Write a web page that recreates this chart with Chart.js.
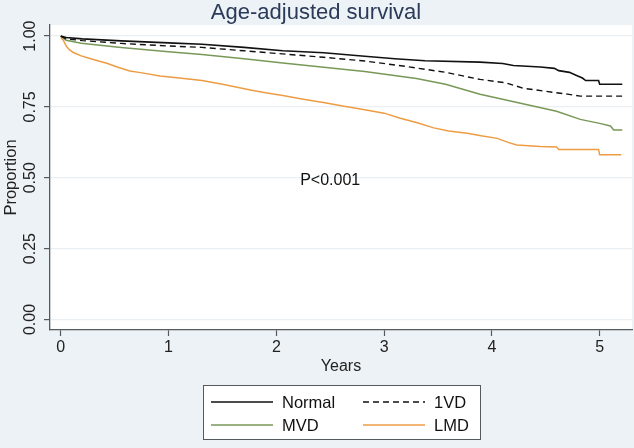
<!DOCTYPE html>
<html>
<head>
<meta charset="utf-8">
<script src="https://cdn.jsdelivr.net/npm/chart.js@4"></script>
<style>
  html, body { margin: 0; padding: 0; background: #edf2f6; }
  canvas { display: block; }
</style>
</head>
<body>
<canvas id="survChart" width="634" height="448"></canvas>
<script>
// Data (repeated times mark visible drops)
const normalYears = [0, 0.05, 0.2, 0.56, 1.0, 1.31, 1.7, 2.06, 2.44, 2.82, 3.1, 3.38, 3.89, 4.1, 4.2, 4.45, 4.58, 4.62, 4.72, 4.78, 4.84, 4.87, 4.99, 5.0, 5.21];
const normalSurv  = [1.0, 0.995, 0.99, 0.983, 0.976, 0.971, 0.96, 0.948, 0.941, 0.929, 0.92, 0.913, 0.908, 0.903, 0.896, 0.891, 0.886, 0.878, 0.872, 0.862, 0.852, 0.843, 0.843, 0.83, 0.83];

const oneVdYears = [0, 0.05, 0.2, 0.56, 1.0, 1.31, 1.7, 2.06, 2.44, 2.82, 3.2, 3.57, 3.89, 4.13, 4.29, 4.5, 4.7, 4.82, 5.21];
const oneVdSurv  = [1.0, 0.99, 0.984, 0.974, 0.965, 0.96, 0.948, 0.937, 0.925, 0.912, 0.893, 0.872, 0.847, 0.835, 0.816, 0.805, 0.795, 0.788, 0.788];

const mvdYears = [0, 0.05, 0.19, 0.56, 1.0, 1.31, 1.7, 2.06, 2.44, 2.82, 3.3, 3.57, 3.89, 4.36, 4.6, 4.82, 5.0, 5.1, 5.13, 5.21];
const mvdSurv  = [1.0, 0.985, 0.975, 0.96, 0.945, 0.935, 0.92, 0.905, 0.89, 0.875, 0.85, 0.83, 0.795, 0.755, 0.735, 0.706, 0.692, 0.683, 0.669, 0.669];

const lmdYears = [0, 0.01, 0.024, 0.04, 0.056, 0.08, 0.117, 0.19, 0.27, 0.35, 0.427, 0.53, 0.64, 0.74, 0.92, 1.1, 1.31, 1.5, 1.76, 1.9, 2.06, 2.25, 2.45, 2.63, 2.82, 3.0, 3.15, 3.3, 3.46, 3.6, 3.77, 3.9, 4.05, 4.15, 4.23, 4.45, 4.6, 4.62, 4.99, 5.0, 5.2];
const lmdSurv  = [1.0, 0.99, 0.985, 0.972, 0.962, 0.952, 0.942, 0.93, 0.921, 0.912, 0.904, 0.89, 0.877, 0.871, 0.859, 0.852, 0.843, 0.83, 0.81, 0.8, 0.79, 0.777, 0.765, 0.752, 0.74, 0.728, 0.71, 0.695, 0.676, 0.665, 0.657, 0.648, 0.639, 0.625, 0.616, 0.61, 0.609, 0.6, 0.6, 0.581, 0.581];

const xTicks = [0, 1, 2, 3, 4, 5];
const yTicks = [0, 0.25, 0.5, 0.75, 1];
const yTickLabels = ['0.00', '0.25', '0.50', '0.75', '1.00'];

const FONT = 'Arial, "Liberation Sans", Helvetica, sans-serif';
const AXIS_GREY = '#555a5e';

function points(xs, ys) {
  return xs.map((x, i) => ({ x: x, y: ys[i] }));
}

// Background: grey graph region, white plot region
const backgroundPlugin = {
  id: 'background',
  beforeDraw(chart) {
    const { ctx, chartArea } = chart;
    ctx.save();
    ctx.fillStyle = '#edf2f6';
    ctx.fillRect(0, 0, chart.width, chart.height);
    ctx.fillStyle = '#ffffff';
    ctx.fillRect(chartArea.left, chartArea.top, chartArea.right - chartArea.left, chartArea.bottom - chartArea.top);
    ctx.restore();
  }
};

// Vertical y tick labels, as Stata draws them
const yLabelPlugin = {
  id: 'yLabels',
  afterDraw(chart) {
    const { ctx } = chart;
    const yScale = chart.scales.y;
    ctx.save();
    ctx.fillStyle = '#222';
    ctx.font = '16px ' + FONT;
    ctx.textAlign = 'center';
    ctx.textBaseline = 'middle';
    yTicks.forEach((v, i) => {
      ctx.save();
      ctx.translate(31, yScale.getPixelForValue(v));
      ctx.rotate(-Math.PI / 2);
      ctx.fillText(yTickLabels[i], 0, 0);
      ctx.restore();
    });
    ctx.restore();
  }
};

// P-value note
const notePlugin = {
  id: 'note',
  afterDatasetsDraw(chart) {
    const { ctx } = chart;
    ctx.save();
    ctx.fillStyle = '#111';
    ctx.font = '16px ' + FONT;
    ctx.textAlign = 'center';
    ctx.textBaseline = 'middle';
    ctx.fillText('P<0.001', chart.scales.x.getPixelForValue(2.5), chart.scales.y.getPixelForValue(0.49));
    ctx.restore();
  }
};

// Boxed two-column legend below the axis
const boxLegendPlugin = {
  id: 'boxLegend',
  afterDraw(chart) {
    const { ctx } = chart;
    const box = { left: 203, top: 385, width: 277, height: 54 };
    ctx.save();
    ctx.fillStyle = '#ffffff';
    ctx.fillRect(box.left, box.top, box.width, box.height);
    ctx.strokeStyle = AXIS_GREY;
    ctx.lineWidth = 1;
    ctx.strokeRect(box.left + 0.5, box.top + 0.5, box.width, box.height);

    ctx.font = '16.5px ' + FONT;
    ctx.textBaseline = 'middle';
    ctx.textAlign = 'left';
    chart.data.datasets.forEach((ds, i) => {
      const col = i % 2;
      const row = Math.floor(i / 2);
      const x0 = box.left + 8 + col * 152;
      const y = box.top + 17 + row * 23;
      ctx.strokeStyle = ds.borderColor;
      ctx.lineWidth = ds.borderWidth;
      ctx.setLineDash(ds.borderDash || []);
      ctx.beginPath();
      ctx.moveTo(x0, y);
      ctx.lineTo(x0 + 62, y);
      ctx.stroke();
      ctx.setLineDash([]);
      ctx.fillStyle = '#111';
      ctx.fillText(ds.label, x0 + 71, y + 1);
    });
    ctx.restore();
  }
};

const ctx = document.getElementById('survChart');

new Chart(ctx, {
  type: 'line',
  data: {
    datasets: [
      { label: 'Normal', data: points(normalYears, normalSurv), borderColor: '#111111', borderWidth: 1.6 },
      { label: '1VD', data: points(oneVdYears, oneVdSurv), borderColor: '#111111', borderWidth: 1.4, borderDash: [6, 4] },
      { label: 'MVD', data: points(mvdYears, mvdSurv), borderColor: '#789858', borderWidth: 1.5 },
      { label: 'LMD', data: points(lmdYears, lmdSurv), borderColor: '#ee9c44', borderWidth: 1.5 }
    ]
  },
  options: {
    responsive: false,
    animation: false,
    elements: {
      point: { radius: 0 },
      line: { tension: 0, fill: false }
    },
    layout: { padding: { left: 0, right: 2, top: 0, bottom: 72 } },
    plugins: {
      legend: { display: false },
      tooltip: { enabled: false },
      title: {
        display: true,
        text: 'Age-adjusted survival',
        color: '#2a3a58',
        font: { family: FONT, size: 22, weight: 'normal', lineHeight: 1 },
        padding: { top: 2, bottom: 1 }
      }
    },
    scales: {
      x: {
        type: 'linear',
        min: -0.1,
        max: 5.3,
        afterBuildTicks: scale => { scale.ticks = xTicks.map(v => ({ value: v })); },
        afterFit: scale => { scale.height = 46; },
        grid: { drawOnChartArea: false, tickLength: 6, tickColor: AXIS_GREY, tickWidth: 1.2 },
        border: { color: AXIS_GREY, width: 1.3 },
        ticks: { color: '#222', font: { family: FONT, size: 16 }, padding: 2, maxRotation: 0 },
        title: { display: true, text: 'Years', color: '#222', font: { family: FONT, size: 16 }, padding: { top: 0, bottom: 0 } }
      },
      y: {
        type: 'linear',
        min: -0.037,
        max: 1.039,
        afterBuildTicks: scale => { scale.ticks = yTicks.map(v => ({ value: v })); },
        afterFit: scale => { scale.width = 50; },
        grid: { color: '#e9eff2', lineWidth: 1.2, tickLength: 6, tickColor: AXIS_GREY, tickWidth: 1.2 },
        border: { color: AXIS_GREY, width: 1.3 },
        ticks: { display: false },
        title: { display: true, text: 'Proportion', color: '#222', font: { family: FONT, size: 16.5 }, padding: { top: 2, bottom: 0 } }
      }
    }
  },
  plugins: [backgroundPlugin, yLabelPlugin, notePlugin, boxLegendPlugin]
});
</script>
</body>
</html>
